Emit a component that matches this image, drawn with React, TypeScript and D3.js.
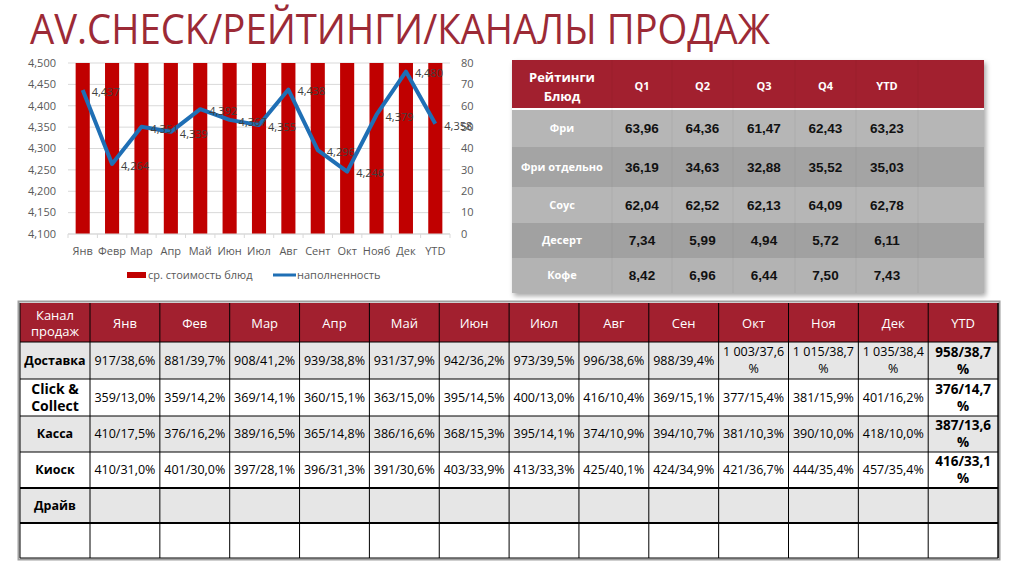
import React from 'react';
import * as d3 from 'd3';

// ---------- data ----------
const months = ['Янв', 'Февр', 'Мар', 'Апр', 'Май', 'Июн', 'Июл', 'Авг', 'Сент', 'Окт', 'Нояб', 'Дек', 'YTD'];
// bars (clipped at the top of the axis in the original)
const avgDishCost = [80, 80, 80, 80, 80, 80, 80, 80, 80, 80, 80, 80, 80];
// line with data labels
const fillRate = [4437, 4264, 4351, 4339, 4392, 4367, 4355, 4438, 4296, 4246, 4379, 4480, 4358];
const leftTicks = [4100, 4150, 4200, 4250, 4300, 4350, 4400, 4450, 4500];
const rightTicks = [0, 10, 20, 30, 40, 50, 60, 70, 80];
const legendBar = 'ср. стоимость блюд';
const legendLine = 'наполненность';

const ratingQuarters = ['Q1', 'Q2', 'Q3', 'Q4', 'YTD'];
const ratingDishes = ['Фри', 'Фри отдельно', 'Соус', 'Десерт', 'Кофе'];
const ratingFri = ['63,96', '64,36', '61,47', '62,43', '63,23'];
const ratingFriSep = ['36,19', '34,63', '32,88', '35,52', '35,03'];
const ratingSauce = ['62,04', '62,52', '62,13', '64,09', '62,78'];
const ratingDessert = ['7,34', '5,99', '4,94', '5,72', '6,11'];
const ratingCoffee = ['8,42', '6,96', '6,44', '7,50', '7,43'];
const ratingRows = [ratingFri, ratingFriSep, ratingSauce, ratingDessert, ratingCoffee];

const channelMonths = ['Янв', 'Фев', 'Мар', 'Апр', 'Май', 'Июн', 'Июл', 'Авг', 'Сен', 'Окт', 'Ноя', 'Дек', 'YTD'];
const channels = ['Доставка', 'Click &\nCollect', 'Касса', 'Киоск', 'Драйв', ''];
const delivery = ['917/38,6%', '881/39,7%', '908/41,2%', '939/38,8%', '931/37,9%', '942/36,2%', '973/39,5%', '996/38,6%', '988/39,4%', '1 003/37,6%', '1 015/38,7%', '1 035/38,4%', '958/38,7%'];
const clickCollect = ['359/13,0%', '359/14,2%', '369/14,1%', '360/15,1%', '363/15,0%', '395/14,5%', '400/13,0%', '416/10,4%', '369/15,1%', '377/15,4%', '381/15,9%', '401/16,2%', '376/14,7%'];
const kassa = ['410/17,5%', '376/16,2%', '389/16,5%', '365/14,8%', '386/16,6%', '368/15,3%', '395/14,1%', '374/10,9%', '394/10,7%', '381/10,3%', '390/10,0%', '418/10,0%', '387/13,6%'];
const kiosk = ['410/31,0%', '401/30,0%', '397/28,1%', '396/31,3%', '391/30,6%', '403/33,9%', '413/33,3%', '425/40,1%', '424/34,9%', '421/36,7%', '444/35,4%', '457/35,4%', '416/33,1%'];
const drive: string[] = [];
const emptyRow: string[] = [];
const channelRows = [delivery, clickCollect, kassa, kiosk, drive, emptyRow];

// ---------- style ----------
const RED = '#a2202f';
const TITLE_RED = '#9c2a36';
const AXIS_TXT = '#595959';
const BAR_RED = '#c00000';
const LINE_BLUE = '#1f6fb5';
const FONT = '"Open Sans", "DejaVu Sans", sans-serif';
const ARIAL = '"Liberation Sans", Arial, sans-serif';

function Chart() {
  const x0 = 68, x1 = 450, yTop = 63, yBot = 234;
  const x = d3.scaleBand<string>().domain(months).range([x0, x1]).paddingInner(0.52).paddingOuter(0.26);
  const yL = d3.scaleLinear().domain([4100, 4500]).range([yBot, yTop]);
  const yR = d3.scaleLinear().domain([0, 80]).range([yBot, yTop]).clamp(true);
  const cx = (m: string) => (x(m) as number) + x.bandwidth() / 2;
  const line = d3.line<number>().x((_, i) => cx(months[i])).y((d) => yL(d));
  const fmt = d3.format(',');
  const step = (x1 - x0) / months.length;
  return (
    <g>
      {leftTicks.map((t) => (
        <line key={'g' + t} x1={x0} x2={x1} y1={yL(t)} y2={yL(t)} stroke="#d9d9d9" strokeWidth={1} />
      ))}
      {leftTicks.map((t) => (
        <text key={'l' + t} x={56} y={yL(t)} dy="0.35em" textAnchor="end" fontFamily={FONT} fontSize={11} fill={AXIS_TXT}>
          {fmt(t)}
        </text>
      ))}
      {rightTicks.map((t) => (
        <text key={'r' + t} x={461} y={yR(t)} dy="0.35em" textAnchor="start" fontFamily={FONT} fontSize={11} fill={AXIS_TXT}>
          {t}
        </text>
      ))}
      {months.map((m, i) => (
        <rect key={'b' + m} x={x(m)} width={x.bandwidth()} y={yR(avgDishCost[i])} height={yBot - yR(avgDishCost[i])} fill={BAR_RED} />
      ))}
      <line x1={x0} x2={x1} y1={yBot} y2={yBot} stroke="#d9d9d9" />
      {d3.range(months.length + 1).map((i) => (
        <line key={'t' + i} x1={x0 + i * step} x2={x0 + i * step} y1={yBot} y2={yBot + 4} stroke="#d9d9d9" />
      ))}
      {months.map((m) => (
        <text key={'x' + m} x={cx(m)} y={251} dy="0.35em" textAnchor="middle" fontFamily={FONT} fontSize={11} fill={AXIS_TXT}>
          {m}
        </text>
      ))}
      <path d={line(fillRate) as string} fill="none" stroke={LINE_BLUE} strokeWidth={4} strokeLinejoin="round" />
      {fillRate.map((v, i) => (
        <text key={'d' + i} x={cx(months[i]) + 9} y={yL(v) + 2} dy="0.35em" fontFamily={FONT} fontSize={11} fill="#404040">
          {fmt(v)}
        </text>
      ))}
      {/* legend */}
      <rect x={127} y={272} width={19} height={6} fill={BAR_RED} />
      <text x={148} y={275} dy="0.35em" fontFamily={FONT} fontSize={11} fill={AXIS_TXT}>{legendBar}</text>
      <line x1={273} x2={296} y1={275} y2={275} stroke={LINE_BLUE} strokeWidth={3} />
      <text x={297} y={275} dy="0.35em" fontFamily={FONT} fontSize={11} fill={AXIS_TXT}>{legendLine}</text>
    </g>
  );
}

function Ratings() {
  const left = 512, top = 60, headerH = 49;
  const colEdges = [512, 612, 672, 733, 795, 856, 918, 984];
  const rowEdges = [109, 147, 187, 223, 258, 293];
  const fills = ['#b6b6b6', '#a4a4a4', '#b6b6b6', '#a1a1a1', '#b3b3b3'];
  const right = colEdges[colEdges.length - 1];
  return (
    <g>
      <defs>
        <filter id="shadow" x="-5%" y="-5%" width="112%" height="115%">
          <feDropShadow dx="2" dy="3" stdDeviation="2.5" floodColor="#000" floodOpacity="0.35" />
        </filter>
      </defs>
      <rect x={left} y={top} width={right - left} height={rowEdges[5] - top} fill="#aaa" filter="url(#shadow)" />
      <rect x={left} y={top} width={right - left} height={headerH} fill={RED} />
      {ratingDishes.map((d, r) => (
        <rect key={'rf' + r} x={left} y={rowEdges[r]} width={right - left} height={rowEdges[r + 1] - rowEdges[r]} fill={fills[r]} />
      ))}
      <line x1={left} x2={right} y1={rowEdges[0]} y2={rowEdges[0]} stroke="#fff" strokeWidth={2} />
      {colEdges.slice(1, -1).map((cx, i) => (
        <line key={'cv' + i} x1={cx} x2={cx} y1={top} y2={rowEdges[5]} stroke="#000" strokeOpacity={0.05} />
      ))}
      <text x={562} y={77} textAnchor="middle" dy="0.35em" fontFamily={FONT} fontWeight={700} fontSize={13} fill="#fff">Рейтинги</text>
      <text x={562} y={96} textAnchor="middle" dy="0.35em" fontFamily={FONT} fontWeight={700} fontSize={13} fill="#fff">Блюд</text>
      {ratingQuarters.map((q, i) => (
        <text key={'q' + q} x={(colEdges[i + 1] + colEdges[i + 2]) / 2} y={86} textAnchor="middle" dy="0.35em" fontFamily={FONT} fontWeight={700} fontSize={11} fill="#fff">
          {q}
        </text>
      ))}
      {ratingDishes.map((d, r) => {
        const cy = (rowEdges[r] + rowEdges[r + 1]) / 2;
        return (
          <g key={'rr' + r}>
            <text x={562} y={cy} textAnchor="middle" dy="0.35em" fontFamily={FONT} fontWeight={700} fontSize={11} fill="#fff">{d}</text>
            {ratingRows[r].map((v, c) => (
              <text key={c} x={(colEdges[c + 1] + colEdges[c + 2]) / 2} y={cy} textAnchor="middle" dy="0.35em" fontFamily={ARIAL} fontWeight={700} fontSize={13.5} fill="#111">
                {v}
              </text>
            ))}
          </g>
        );
      })}
    </g>
  );
}

function Channels() {
  const left = 20, firstW = 70, colW = 69.85;
  const rowEdges = [303, 342, 379, 416, 452, 488, 523, 558];
  const cols = channelMonths.length;
  const right = left + firstW + cols * colW;
  const fills = ['#e6e6e6', '#ffffff', '#e6e6e6', '#ffffff', '#e6e6e6', '#ffffff'];
  const colX = (c: number) => left + firstW + c * colW;
  const lines = (s: string, isYtd: boolean) => {
    if (s.includes('\n')) return s.split('\n');
    if (isYtd || s.length > 9) return [s.slice(0, -1), '%'];
    return [s];
  };
  return (
    <g>
      <rect x={left - 1.5} y={rowEdges[0] - 1.5} width={right - left + 3} height={rowEdges[7] - rowEdges[0] + 3} fill="none" stroke="#a0a0a0" strokeWidth={2} />
      <rect x={left} y={rowEdges[0]} width={right - left} height={rowEdges[1] - rowEdges[0]} fill={RED} />
      {channels.map((_, r) => (
        <rect key={'f' + r} x={left} y={rowEdges[r + 1]} width={right - left} height={rowEdges[r + 2] - rowEdges[r + 1]} fill={fills[r]} />
      ))}
      {/* header text */}
      <text x={left + firstW / 2} y={315} textAnchor="middle" dy="0.35em" fontFamily={FONT} fontSize={13} fill="#fff">Канал</text>
      <text x={left + firstW / 2} y={331} textAnchor="middle" dy="0.35em" fontFamily={FONT} fontSize={13} fill="#fff">продаж</text>
      {channelMonths.map((m, c) => (
        <text key={'h' + m} x={colX(c) + colW / 2} y={323} textAnchor="middle" dy="0.35em" fontFamily={FONT} fontSize={13} fill="#fff">
          {m}
        </text>
      ))}
      {/* grid lines */}
      {rowEdges.slice(1).map((y, i) => (
        <line key={'hl' + i} x1={left} x2={right} y1={y} y2={y} stroke="#000" strokeWidth={i === 4 || i === 5 ? 2 : 1} />
      ))}
      {d3.range(cols + 1).map((c) => (
        <line key={'vl' + c} x1={colX(c)} x2={colX(c)} y1={rowEdges[0]} y2={rowEdges[7]} stroke="#000" strokeWidth={1} />
      ))}
      <line x1={left} x2={left} y1={rowEdges[0]} y2={rowEdges[7]} stroke="#000" />
      <line x1={right} x2={right} y1={rowEdges[0]} y2={rowEdges[7]} stroke="#000" />
      {channels.map((ch, r) => {
        const cy = (rowEdges[r + 1] + rowEdges[r + 2]) / 2;
        const labelLines = ch.split('\n');
        return (
          <g key={'r' + r}>
            {labelLines.map((l, k) => (
              <text key={'lab' + k} x={left + firstW / 2} y={cy + (k - (labelLines.length - 1) / 2) * 17} textAnchor="middle" dy="0.35em" fontFamily={FONT} fontWeight={700} fontSize={labelLines.length > 1 ? 14 : 12.5} fill="#000">
                {l}
              </text>
            ))}
            {channelRows[r].map((v, c) => {
              const isYtd = c === cols - 1;
              const ls = lines(v, isYtd);
              return ls.map((l, k) => (
                <text key={c + '-' + k} x={colX(c) + colW / 2} y={cy + (k - (ls.length - 1) / 2) * 17} textAnchor="middle" dy="0.35em" fontFamily={FONT} fontWeight={isYtd ? 700 : 400} fontSize={isYtd ? 13.5 : 12.5} fill="#000">
                  {l}
                </text>
              ));
            })}
          </g>
        );
      })}
    </g>
  );
}

export default function App() {
  return (
    <svg width={1024} height={574} viewBox="0 0 1024 574" style={{ position: 'absolute', left: 0, top: 0, background: '#fff' }}>
      <rect width={1024} height={574} fill="#fff" />
      <text x={30} y={44} fontFamily={FONT} fontSize={42} fill={TITLE_RED} textLength={740} lengthAdjust="spacingAndGlyphs">
        AV.CHECK/РЕЙТИНГИ/КАНАЛЫ ПРОДАЖ
      </text>
      <Chart />
      <Ratings />
      <Channels />
    </svg>
  );
}
